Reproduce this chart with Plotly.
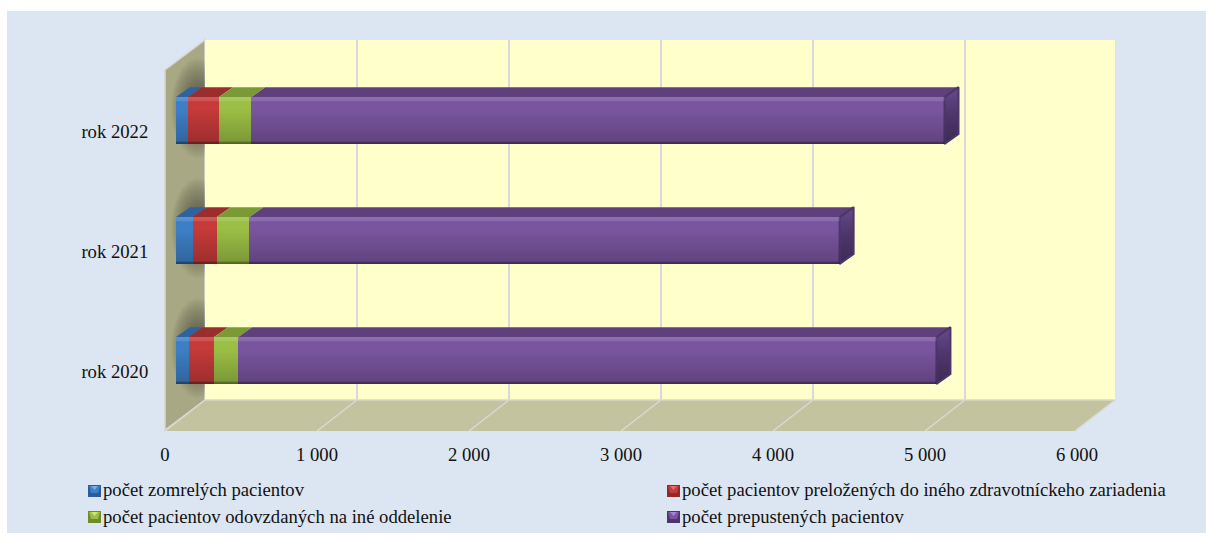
import plotly.graph_objects as go

# ---- data ----
categories = ["rok 2020", "rok 2021", "rok 2022"]
zomreli = [84, 110, 81]
prelozeni = [167, 158, 202]
odovzdani = [158, 215, 213]
prepusteni = [4594, 3883, 4560]
series_names = [
    "počet zomrelých pacientov",
    "počet pacientov preložených do iného zdravotníckeho zariadenia",
    "počet pacientov odovzdaných na iné oddelenie",
    "počet prepustených pacientov",
]
tick_values = [0, 1000, 2000, 3000, 4000, 5000, 6000]
tick_labels = ["0", "1 000", "2 000", "3 000", "4 000", "5 000", "6 000"]

# ---- styles ----
W, H = 1206, 533
FONT = "Liberation Serif"
FS = 18.67
SPAN = 912   # pixels from 0 to 6000
face = ["#3d7fc6", "#c63a3a", "#9bbf45", "#7a559f"]
top_face = ["#2e639f", "#9c2d2d", "#7a9a35", "#5f407d"]
BAR_W = 0.39
DX = 92      # bar depth in value units
DY = 0.083   # bar depth in category units


def fx(p):
    return p / W


def fy(p):
    return 1 - p / H


def poly(points, fill, line=None, layer="below"):
    path = "M" + "L".join(f"{fx(a)},{fy(b)}" for a, b in points) + "Z"
    return dict(type="path", xref="paper", yref="paper", path=path, fillcolor=fill,
                line=dict(color=line or "rgba(0,0,0,0)", width=1.5 if line else 0), layer=layer)


shapes = [
    dict(type="rect", xref="paper", yref="paper", x0=fx(7), x1=1, y0=0, y1=fy(11),
         fillcolor="#dce6f2", line=dict(width=0), layer="below"),
    poly([(165, 70), (205, 40), (205, 400), (165, 430)], "#a8a884", "#d4d6d0"),
]
# soft shadow of the bars on the side wall
for centre in (120, 240, 360):
    for i in range(30):
        k = 1 - i / 30
        shapes.append(dict(type="circle", xref="paper", yref="paper",
                           x0=fx(198 - 27 * k), x1=fx(198 + 27 * k),
                           y0=fy(centre - 12 - 50 * k), y1=fy(centre - 12 + 50 * k),
                           fillcolor="rgba(40,40,30,0.028)", line=dict(width=0), layer="below"))
shapes += [
    poly([(205, 40), (1115, 40), (1115, 400), (205, 400)], "#ffffcc"),
    poly([(165, 431), (205, 400), (1115, 400), (1075, 431)], "#c3c39f", None),
]
# floor grid lines and edges
for t in tick_values[:-1]:
    x_front = 165 + t * SPAN / 6000
    shapes.append(dict(type="line", xref="paper", yref="paper", x0=fx(x_front), y0=fy(431),
                       x1=fx(x_front + 40), y1=fy(400), line=dict(color="#d9d9d9", width=1.5), layer="below"))
shapes.append(dict(type="line", xref="paper", yref="paper", x0=fx(1075), y0=fy(431),
                   x1=fx(1115), y1=fy(400), line=dict(color="#d9d9d9", width=1.5), layer="below"))
shapes.append(dict(type="line", xref="paper", yref="paper", x0=fx(205), y0=fy(400), x1=fx(1115), y1=fy(400),
                   line=dict(color="#d9d9c4", width=1.5), layer="below"))

# ---- legend (Excel style swatch right against the text) ----
legend_pos = [(88, 490), (667, 490), (88, 516), (667, 516)]
legend_light = ["#6fb0ee", "#ee6a6a", "#cfe86a", "#a683d8"]
legend_dark = ["#2b5c95", "#8f2a2a", "#71892f", "#4f3570"]
annotations = []
for (lx, ly), name, dark, light, mid in zip(legend_pos, series_names, legend_dark, legend_light, face):
    shapes.append(dict(type="rect", xref="paper", yref="paper", x0=fx(lx), x1=fx(lx + 13),
                       y0=fy(ly + 7), y1=fy(ly - 5), fillcolor=dark, line=dict(width=0), layer="above"))
    shapes.append(poly([(lx + 1, ly - 4), (lx + 12, ly - 4), (lx + 10, ly + 3), (lx + 3, ly + 3)], mid, layer="above"))
    shapes.append(poly([(lx + 3, ly - 4), (lx + 10, ly - 4), (lx + 6.5, ly)], light, layer="above"))
    annotations.append(dict(xref="paper", yref="paper", x=fx(lx + 12.5), y=fy(ly), text=name, showarrow=False,
                            xanchor="left", yanchor="middle", font=dict(family=FONT, size=FS, color="#111111")))

fig = go.Figure()

# back wall axes carry the gridlines, front axes carry the labels
fig.add_trace(go.Scatter(x=[0, 6000], y=[0, 1], mode="none", xaxis="x", yaxis="y", showlegend=False, hoverinfo="skip"))
fig.add_trace(go.Scatter(x=[0, 6000], y=[0, 2], mode="none", xaxis="x2", yaxis="y2", showlegend=False, hoverinfo="skip"))

series = [zomreli, prelozeni, odovzdani, prepusteni]
idx = list(range(len(categories)))
for s, name, col in zip(series, series_names, face):
    fig.add_trace(go.Bar(y=idx, x=s, name=name, orientation="h", marker=dict(color=col, line=dict(width=0)),
                         xaxis="x3", yaxis="y3", width=BAR_W, showlegend=False))

# depth faces and shading, all derived from the values
for c in idx:
    start = 0
    top = c + BAR_W / 2
    bot = c - BAR_W / 2
    for s, col in zip(series, top_face):
        end = start + s[c]
        fig.add_trace(go.Scatter(x=[start, end, end + DX, start + DX, start], y=[top, top, top + DY, top + DY, top],
                                 mode="lines", line=dict(width=0), fill="toself", fillcolor=col,
                                 xaxis="x3", yaxis="y3", showlegend=False, hoverinfo="skip"))
        start = end
    fig.add_trace(go.Scatter(x=[start, start + DX, start + DX, start, start],
                             y=[top, top + DY, bot + DY, bot, top],
                             mode="lines", line=dict(width=2, color="#4d3569"), fill="toself",
                             fillgradient=dict(type="vertical", start=top + DY, stop=bot,
                                               colorscale=[[0, "#654a8c"], [0.5, "#4d3569"], [1, "#3d2a55"]]),
                             xaxis="x3", yaxis="y3", showlegend=False, hoverinfo="skip"))
    # vertical shading over the front face
    fig.add_trace(go.Scatter(x=[0, start, start, 0, 0], y=[top, top, bot, bot, top],
                             mode="lines", line=dict(width=0), fill="toself",
                             fillgradient=dict(type="vertical", start=top, stop=bot,
                                               colorscale=[[0, "rgba(255,255,255,0.16)"], [0.08, "rgba(255,255,255,0.12)"],
                                                           [0.1, "rgba(255,255,255,0)"], [0.25, "rgba(0,0,0,0)"],
                                                           [0.94, "rgba(0,0,0,0.2)"], [0.96, "rgba(0,0,0,0.4)"],
                                                           [1, "rgba(0,0,0,0.5)"]]),
                             xaxis="x3", yaxis="y3", showlegend=False, hoverinfo="skip"))


def dom_x(a, b):
    return [fx(a), fx(b)]


def dom_y(a, b):
    return [fy(b), fy(a)]


hidden = dict(showticklabels=False, ticks="", showline=False, zeroline=False, showgrid=False)
fig.update_layout(
    width=W, height=H, autosize=False, margin=dict(l=0, r=0, t=0, b=0, autoexpand=False),
    paper_bgcolor="#ffffff", plot_bgcolor="rgba(0,0,0,0)", showlegend=False,
    barmode="stack", shapes=shapes, annotations=annotations,
    font=dict(family=FONT, size=FS, color="#111111"),
    xaxis=dict(domain=dom_x(205, 205 + SPAN), range=[0, 6000], tickvals=tick_values[:-1], showgrid=True,
               gridcolor="#d9d9d9", gridwidth=2, zeroline=False, showticklabels=False, ticks=""),
    yaxis=dict(domain=dom_y(40, 400), range=[0, 1], **hidden),
    xaxis2=dict(domain=dom_x(165, 165 + SPAN), range=[0, 6000], anchor="y2", tickmode="array", tickvals=tick_values,
                ticktext=tick_labels, ticks="outside", ticklen=8, tickcolor="rgba(0,0,0,0)", showgrid=False,
                zeroline=False, showline=False, tickfont=dict(family=FONT, size=FS, color="#111111")),
    yaxis2=dict(domain=dom_y(70, 430), range=[-0.5, 2.5], anchor="x2", tickmode="array", tickvals=idx,
                ticktext=categories, ticks="outside", ticklen=12, tickcolor="rgba(0,0,0,0)", showgrid=False,
                zeroline=False, showline=False, ticklabelshift=1, tickfont=dict(family=FONT, size=FS, color="#111111")),
    xaxis3=dict(domain=dom_x(176, 176 + SPAN), range=[0, 6000], anchor="y3", **hidden),
    yaxis3=dict(domain=dom_y(40.5, 420.5), range=[-0.5, 2.5 + 20 / 120], anchor="x3", **hidden),
)
fig.write_html("out.html", config={"displayModeBar": False}, post_script="document.body.style.margin='0';")
